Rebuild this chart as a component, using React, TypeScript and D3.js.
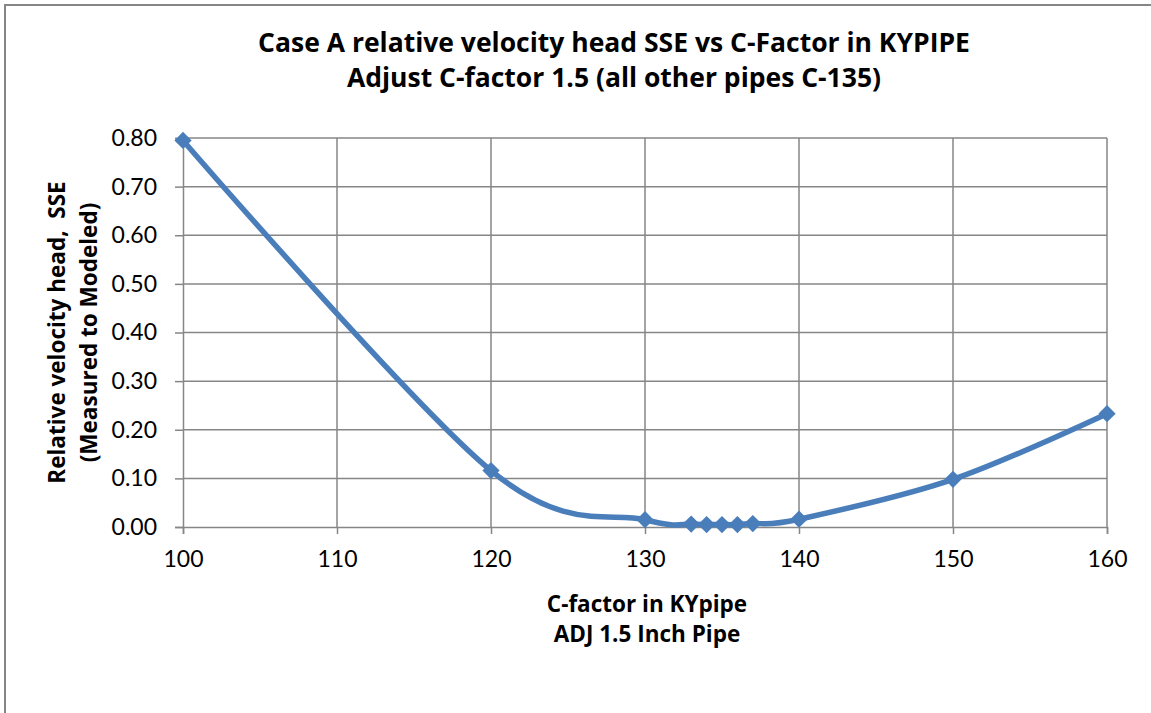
import React, { useRef, useEffect } from 'react';
import * as d3 from 'd3';

const cFactors = [100, 120, 130, 133, 134, 135, 136, 137, 140, 150, 160];
const sseValues = [0.795, 0.116, 0.015, 0.006, 0.005, 0.005, 0.005, 0.007, 0.016, 0.098, 0.233];
const xTicks = [100, 110, 120, 130, 140, 150, 160];
const yTicks = [0, 0.1, 0.2, 0.3, 0.4, 0.5, 0.6, 0.7, 0.8];
const titleLines = [
  'Case A relative velocity head SSE vs C-Factor in KYPIPE',
  'Adjust C-factor 1.5 (all other pipes C-135)',
];
const xTitleLines = ['C-factor in KYpipe', 'ADJ 1.5 Inch Pipe'];
const yTitleLines = ['Relative velocity head,  SSE', '(Measured to Modeled)'];

const W = 1151;
const H = 713;
const TICK_FONT = 'Lato, "Open Sans", sans-serif';
const TITLE_FONT = '"Open Sans", Lato, sans-serif';

const App = () => {
  const svgRef = useRef<SVGSVGElement>(null);

  useEffect(() => {
    const svg = d3.select(svgRef.current);
    svg.selectAll('*').remove();

    const plot = { left: 183, right: 1107, top: 138, bottom: 527 };
    const grid = '#868686';
    const blue = '#4A7EBB';

    // outer chart border (runs off the right and bottom edge)
    svg.append('rect')
      .attr('x', 5).attr('y', 5)
      .attr('width', W + 20).attr('height', H + 20)
      .attr('fill', '#fff')
      .attr('stroke', grid).attr('stroke-width', 2);

    const x = d3.scaleLinear().domain([100, 160]).range([plot.left, plot.right]);
    const y = d3.scaleLinear().domain([0, 0.8]).range([plot.bottom, plot.top]);

    // gridlines
    svg.append('g').selectAll('line')
      .data(yTicks.slice(1))
      .join('line')
      .attr('x1', plot.left).attr('x2', plot.right)
      .attr('y1', d => y(d)).attr('y2', d => y(d))
      .attr('stroke', grid).attr('stroke-width', 1.5);

    svg.append('g').selectAll('line')
      .data(xTicks.slice(1))
      .join('line')
      .attr('x1', d => x(d)).attr('x2', d => x(d))
      .attr('y1', plot.top).attr('y2', plot.bottom)
      .attr('stroke', grid).attr('stroke-width', 1.5);

    // axes
    const xAxis = svg.append('g')
      .attr('transform', `translate(0,${plot.bottom})`)
      .call(d3.axisBottom(x).tickValues(xTicks).tickSize(7).tickPadding(17).tickFormat(d3.format('d')));
    const yAxis = svg.append('g')
      .attr('transform', `translate(${plot.left},0)`)
      .call(d3.axisLeft(y).tickValues(yTicks).tickSize(8).tickPadding(18).tickFormat(d3.format('.2f')));

    [xAxis, yAxis].forEach(a => {
      a.select('.domain').attr('stroke', grid).attr('stroke-width', 1.5);
      a.selectAll('.tick line').attr('stroke', grid).attr('stroke-width', 1.5);
      a.selectAll('.tick text')
        .attr('fill', '#000')
        .style('font-family', TICK_FONT)
        .style('font-size', '23px');
    });

    // data line
    const line = d3.line<number>()
      .x((d, i) => x(cFactors[i]))
      .y(d => y(d))
      .curve(d3.curveCardinal.tension(0));

    svg.append('path')
      .datum(sseValues)
      .attr('d', line)
      .attr('fill', 'none')
      .attr('stroke', blue)
      .attr('stroke-width', 5.5)
      .attr('stroke-linejoin', 'round');

    svg.append('g').selectAll('path')
      .data(sseValues)
      .join('path')
      .attr('d', d3.symbol(d3.symbolDiamond2, 190)())
      .attr('transform', (d, i) => `translate(${x(cFactors[i])},${y(d)})`)
      .attr('fill', blue);

    // titles
    svg.append('g').selectAll('text')
      .data(titleLines)
      .join('text')
      .attr('x', 614).attr('y', (d, i) => 52 + i * 35)
      .attr('text-anchor', 'middle')
      .style('font-family', TITLE_FONT)
      .style('font-weight', 'bold')
      .style('font-size', '26.5px')
      .text(d => d);

    svg.append('g').selectAll('text')
      .data(xTitleLines)
      .join('text')
      .attr('x', 647).attr('y', (d, i) => 612 + i * 30)
      .attr('text-anchor', 'middle')
      .style('font-family', TITLE_FONT)
      .style('font-weight', 'bold')
      .style('font-size', '22.5px')
      .text(d => d);

    svg.append('g')
      .attr('transform', `translate(0,${(plot.top + plot.bottom) / 2}) rotate(-90)`)
      .selectAll('text')
      .data(yTitleLines)
      .join('text')
      .attr('x', 0).attr('y', (d, i) => 65 + i * 32)
      .attr('text-anchor', 'middle')
      .style('font-family', TITLE_FONT)
      .style('font-weight', 'bold')
      .style('font-size', '22.5px')
      .style('white-space', 'pre')
      .text(d => d);
  }, []);

  return (
    <svg ref={svgRef} width={W} height={H} style={{ position: 'absolute', left: 0, top: 0 }}>
      {/* chart drawn by d3 */}
    </svg>
  );
};

export default App;
